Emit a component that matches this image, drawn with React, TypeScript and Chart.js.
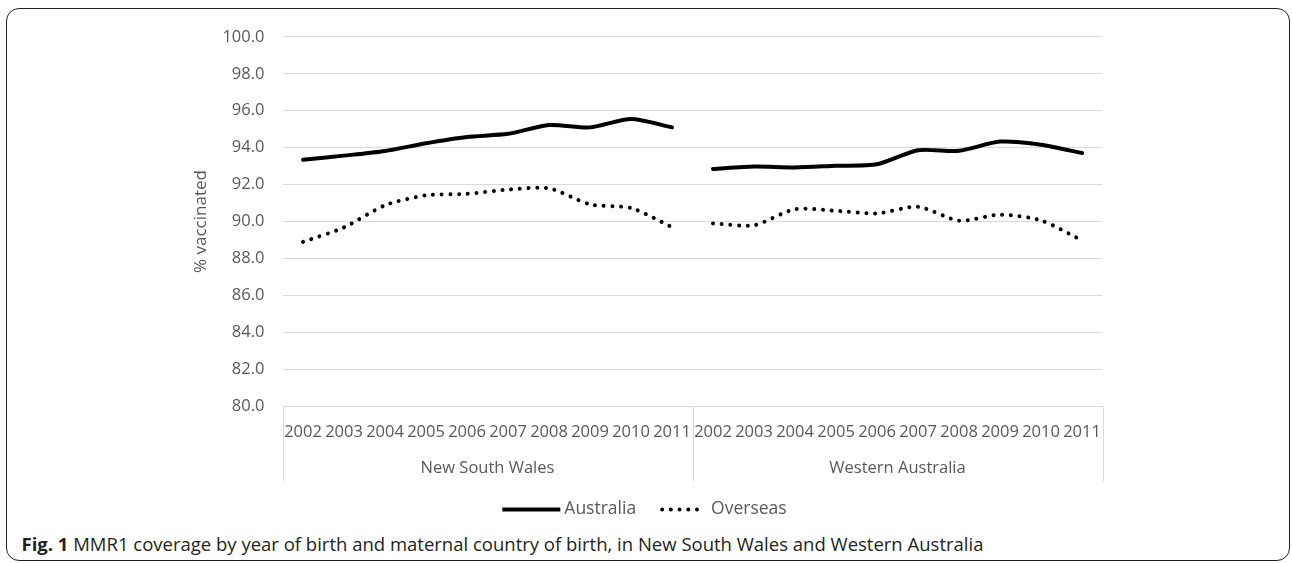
import React, { useEffect, useRef } from "react";
import { Chart, registerables } from "chart.js";

Chart.register(...registerables);

const years = ["2002", "2003", "2004", "2005", "2006", "2007", "2008", "2009", "2010", "2011"];
const groups = ["New South Wales", "Western Australia"];
const categories = [...years, ...years];

const australiaNSW = [93.35, 93.57, 93.82, 94.24, 94.58, 94.75, 95.23, 95.1, 95.55, 95.1];
const australiaWA = [92.85, 92.98, 92.93, 93.02, 93.1, 93.86, 93.83, 94.33, 94.16, 93.71];
const overseasNSW = [88.9, 89.68, 90.88, 91.42, 91.5, 91.73, 91.8, 90.93, 90.73, 89.7];
const overseasWA = [89.9, 89.8, 90.67, 90.58, 90.44, 90.8, 90.05, 90.37, 90.06, 88.98];

const yTicks = [80, 82, 84, 86, 88, 90, 92, 94, 96, 98, 100];
const seriesNames = ["Australia", "Overseas"];
const yTitle = "% vaccinated";

const FONT = "'Open Sans', 'Noto Sans', sans-serif";
const GREY = "#595959";
const GRID = "#d9d9d9";

const groupPlugin = {
  id: "groupLabels",
  afterDraw(chart: any) {
    const { ctx, chartArea } = chart;
    const x = chart.scales.x;
    const per = years.length;
    const bounds = [chartArea.left];
    for (let g = 1; g < groups.length; g++) {
      bounds.push((x.getPixelForValue(g * per - 1) + x.getPixelForValue(g * per)) / 2);
    }
    bounds.push(chartArea.right);
    ctx.save();
    ctx.strokeStyle = GRID;
    ctx.lineWidth = 1;
    bounds.forEach((b) => {
      ctx.beginPath();
      ctx.moveTo(Math.round(b) + 0.5, chartArea.bottom);
      ctx.lineTo(Math.round(b) + 0.5, chartArea.bottom + 75);
      ctx.stroke();
    });
    ctx.fillStyle = GREY;
    ctx.font = `16.5px ${FONT}`;
    ctx.textAlign = "center";
    ctx.textBaseline = "middle";
    groups.forEach((g, i) => {
      ctx.fillText(g, (bounds[i] + bounds[i + 1]) / 2, chartArea.bottom + 62);
    });
    ctx.restore();
  },
};

const legendPlugin = {
  id: "customLegend",
  afterDraw(chart: any) {
    const { ctx } = chart;
    const sampleW = [58, 47];
    const gapText = 4;
    const gapItem = 24;
    ctx.save();
    ctx.font = `17.5px ${FONT}`;
    const items = chart.data.datasets
      .filter((d: any) => d.showInLegend)
      .map((d: any, i: number) => ({ d, w: sampleW[i], tw: ctx.measureText(d.label).width }));
    const total =
      items.reduce((s: number, it: any) => s + it.w + gapText + it.tw, 0) + gapItem * (items.length - 1);
    let cx = chart.width / 2 - 3 - total / 2;
    const cy = chart.height - 19.5;
    items.forEach((it: any) => {
      ctx.strokeStyle = it.d.borderColor;
      ctx.lineWidth = it.d.borderWidth;
      ctx.lineCap = it.d.legendCap;
      ctx.setLineDash(it.d.borderDash || []);
      ctx.beginPath();
      const off = it.d.borderDash && it.d.borderDash.length ? 2 : 0;
      ctx.moveTo(cx + off, cy);
      ctx.lineTo(cx + it.w - off, cy);
      ctx.stroke();
      ctx.setLineDash([]);
      ctx.fillStyle = GREY;
      ctx.textAlign = "left";
      ctx.textBaseline = "middle";
      ctx.fillText(it.d.label, cx + it.w + gapText, cy);
      cx += it.w + gapText + it.tw + gapItem;
    });
    ctx.restore();
  },
};

function ChartView() {
  const ref = useRef<HTMLCanvasElement | null>(null);
  useEffect(() => {
    if (!ref.current) return;
    const blank = years.map(() => null);
    const solid = {
      borderColor: "#000000",
      borderWidth: 4,
      borderCapStyle: "round",
      borderJoinStyle: "round",
      legendCap: "butt",
      pointRadius: 0,
      tension: 0.25,
      fill: false,
      spanGaps: false,
    };
    const dotted = {
      ...solid,
      borderDash: [0.01, 8.7],
      borderCapStyle: "round",
      legendCap: "round",
    };
    const chart = new Chart(ref.current, {
      type: "line",
      data: {
        labels: categories,
        datasets: [
          { ...solid, label: seriesNames[0], showInLegend: true, data: [...australiaNSW, ...blank] } as any,
          { ...dotted, label: seriesNames[1], showInLegend: true, data: [...overseasNSW, ...blank] } as any,
          { ...solid, label: seriesNames[0], showInLegend: false, data: [...blank, ...australiaWA] } as any,
          { ...dotted, label: seriesNames[1], showInLegend: false, data: [...blank, ...overseasWA] } as any,
        ],
      },
      options: {
        animation: false,
        responsive: false,
        maintainAspectRatio: false,
        layout: { padding: { left: 0, right: 185.5, top: 22.2, bottom: 37.8 } },
        plugins: {
          legend: { display: false },
          tooltip: { enabled: false },
        },
        scales: {
          x: {
            type: "category",
            offset: true,
            grid: { display: false, drawTicks: false },
            border: { display: false },
            ticks: {
              color: GREY,
              font: { family: FONT, size: 16.5 },
              padding: 15.7,
              autoSkip: false,
              maxRotation: 0,
              minRotation: 0,
            },
            afterFit: (a: any) => {
              a.height = 85;
            },
          },
          y: {
            min: 80,
            max: 100,
            afterBuildTicks: (a: any) => {
              a.ticks = yTicks.map((v) => ({ value: v }));
            },
            grid: { color: GRID, lineWidth: 1, drawTicks: false },
            border: { display: false },
            ticks: {
              color: GREY,
              font: { family: FONT, size: 16.5 },
              padding: 18,
              callback: (v: any) => Number(v).toFixed(1),
            },
            title: {
              display: true,
              text: yTitle,
              color: GREY,
              font: { family: FONT, size: 17 },
              padding: { top: 184.3, bottom: 0 },
            },
            afterFit: (a: any) => {
              a.width = 275.5;
            },
          },
        },
      } as any,
      plugins: [groupPlugin, legendPlugin],
    });
    return () => chart.destroy();
  }, []);
  return <canvas ref={ref} width={1281} height={520} style={{ width: 1281, height: 520, display: "block" }} />;
}

export default function App() {
  return (
    <div
      style={{
        position: "absolute",
        left: 6,
        top: 8,
        width: 1284,
        height: 553,
        boxSizing: "border-box",
        border: "1.5px solid #231f20",
        borderRadius: 13,
        background: "#fff",
      }}
    >
      <div style={{ position: "absolute", left: 0, top: 0 }}>
        <ChartView />
      </div>
      <div
        style={{
          position: "absolute",
          left: 14.5,
          top: 523.5,
          lineHeight: "22px",
          fontFamily: FONT,
          fontSize: 18.5,
          color: "#231f20",
          whiteSpace: "nowrap",
        }}
      >
        <b>Fig. 1</b> MMR1 coverage by year of birth and maternal country of birth, in New South Wales and Western
        Australia
      </div>
    </div>
  );
}
